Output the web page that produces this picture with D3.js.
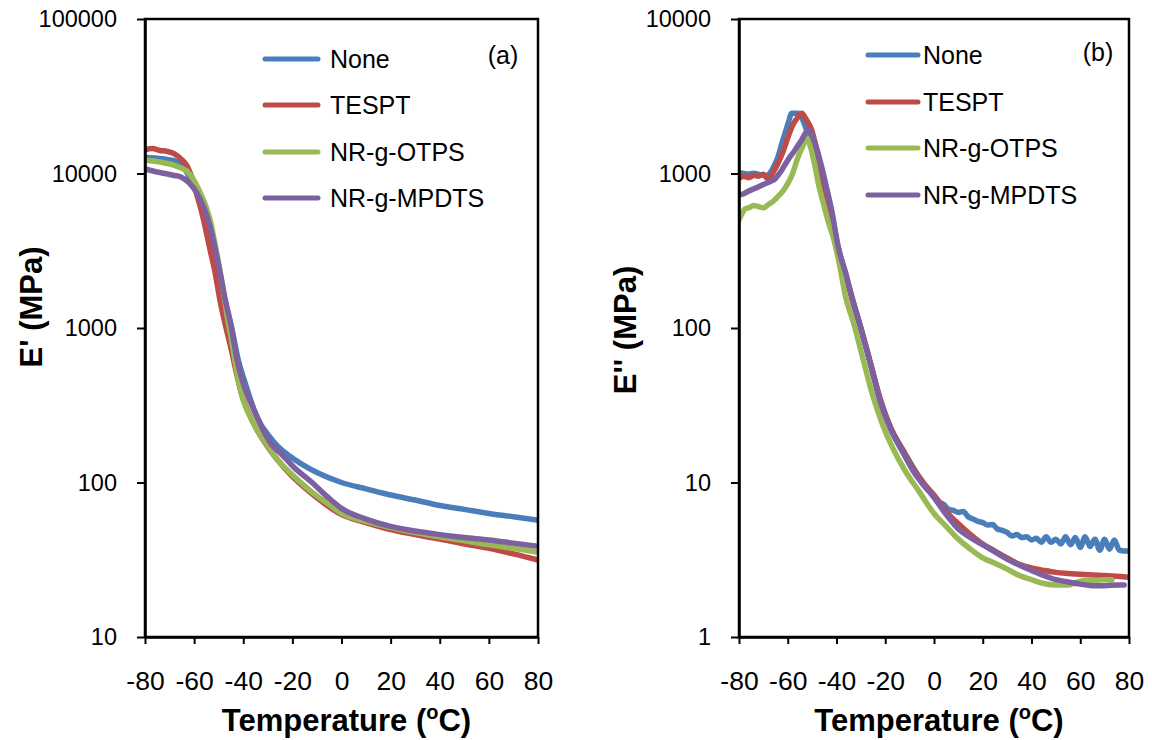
<!DOCTYPE html>
<html>
<head>
<meta charset="utf-8">
<script src="https://cdn.jsdelivr.net/npm/d3@7"></script>
<style>
  body { margin: 0; background: #fff; }
  text { font-family: "Liberation Sans", Arial, Helvetica, sans-serif; fill: #000; }
</style>
</head>
<body>
<svg id="chart" width="1152" height="740"></svg>
<script>
// ---- Data: temperature (°C) / modulus (MPa) pairs per compound ----
const seriesNames = ["None", "TESPT", "NR-g-OTPS", "NR-g-MPDTS"];
const seriesColors = ["#4A7EBB", "#BE4B48", "#98B954", "#7D60A0"];
const tempTicks = [-80, -60, -40, -20, 0, 20, 40, 60, 80];
const storageTicks = [10, 100, 1000, 10000, 100000];
const lossTicks = [1, 10, 100, 1000, 10000];

// (a) storage modulus E'
const storageNone = [[-80,12700],[-76,12600],[-72,12400],[-68,12100],[-65,11200],[-62,9600],[-59,7600],[-56,5800],[-53.5,4300],[-51.5,3100],[-49.5,2150],[-47.5,1500],[-45,1050],[-42,620],[-39,430],[-35,280],[-33,240],[-30,205],[-26,172],[-21,148],[-16.7,133],[-10,116],[0,100],[10,91],[20,83],[30,77],[40,71],[50,67],[60,63],[70,60],[80,57]];
const storageTESPT = [[-80,14200],[-77,14500],[-74,14100],[-71,13900],[-68,13400],[-65,12300],[-63,11300],[-61,9500],[-59,7400],[-57.5,6100],[-55.5,4500],[-53.5,3200],[-51.5,2300],[-49.5,1520],[-47,1000],[-45,740],[-43,530],[-41,390],[-36,245],[-30,170],[-22,118],[-11,82],[0,62],[10,55],[20,49.5],[30,46],[40,43],[50,40],[60,37.5],[70,34.5],[80,31.5]];
const storageOTPS = [[-80,12200],[-76,12000],[-72,11700],[-68,11300],[-65,10800],[-63,10400],[-60,9000],[-57,7200],[-55,6000],[-53.5,5000],[-51.5,3500],[-49.5,2370],[-48,1700],[-46.5,1180],[-45,880],[-43.3,600],[-41,390],[-36,245],[-30,172],[-26,140],[-22,120],[-16,98],[-11,84],[-5,72],[0,63],[10,56],[20,51],[30,47.5],[40,44.5],[50,42],[60,39.5],[70,37.5],[79,35.6]];
const storageMPDTS = [[-80,10700],[-76,10300],[-72,10000],[-68,9700],[-65.7,9550],[-62,8700],[-58.9,7480],[-56,6000],[-53.5,4530],[-51.5,3300],[-49.4,2270],[-47.3,1520],[-45.3,1100],[-41.9,562],[-40,440],[-38,360],[-35,280],[-32,220],[-28.8,179],[-24,150],[-19.5,126],[-12,100],[-5.8,81],[0,68],[10,58],[20,52],[30,48.5],[40,46],[50,44],[60,42.5],[70,40.5],[79,38.8]];

// (b) loss modulus E''
const lossNone = [[-80,1010],[-78,1000],[-76,990],[-74,1005],[-72,985],[-70,975],[-68.5,970],[-67,1020],[-65.5,1130],[-64,1280],[-62.5,1550],[-61,1850],[-59.5,2200],[-58.5,2450],[-57,2450],[-55.5,2450],[-54,2250],[-52.5,1950],[-51,1650],[-49,1300],[-47,960],[-45,720],[-43,540],[-40,360],[-36,212],[-33,146],[-30,99],[-26,58],[-22,34.5],[-18,23],[-12,15.5],[-6,10.8],[-2,8.9],[0,8.2],[2,7.5],[4,7.2],[6,6.7],[8,6.6],[10,6.4],[12,6.5],[14,6.0],[16,5.8],[18,5.6],[20,5.5],[22,5.3],[24,5.35],[26,5.0],[28,4.9],[30,4.75],[32,4.5],[34,4.6],[36,4.4],[38,4.45],[40,4.25],[42,4.35],[44,4.1],[46,4.45],[48,4.1],[50,4.3],[52,4.0],[54,4.45],[56,3.95],[58,4.4],[60,3.8],[62,4.45],[64,3.85],[66,4.3],[68,3.65],[70,4.3],[72,3.7],[74,4.25],[76,3.65],[78,3.6],[80,3.6]];
const lossTESPT = [[-80,930],[-78,960],[-76,940],[-74,970],[-72,960],[-70,990],[-68.5,930],[-67,960],[-65.5,1050],[-64,1165],[-62,1380],[-60,1700],[-58,2050],[-56,2300],[-54.3,2450],[-52.5,2250],[-50.2,1915],[-48,1400],[-46,1000],[-44,720],[-42,540],[-39.3,330],[-36,215],[-33.4,150],[-30,100],[-26,59],[-22.2,35],[-18,23],[-12.6,16],[-8,12],[-4,9.8],[0,8.3],[5,6.5],[10,5.4],[15,4.6],[20,4.0],[25,3.6],[30,3.25],[35,2.95],[40,2.8],[45,2.7],[50,2.62],[55,2.58],[60,2.55],[65,2.52],[70,2.5],[75,2.47],[80,2.44]];
const lossOTPS = [[-80,500],[-79,540],[-77.5,590],[-76,600],[-74,620],[-72,610],[-70,600],[-68,630],[-66,660],[-64,710],[-62,770],[-60,860],[-58,1000],[-56,1250],[-54,1480],[-52.2,1690],[-50.5,1450],[-49,1150],[-47.5,870],[-45.5,650],[-43.4,490],[-41,370],[-38.5,245],[-36.5,165],[-33,108],[-29,62],[-25,36],[-21,23.5],[-17,16.8],[-12,12],[-6,8.7],[0,6.3],[5,5.2],[10,4.3],[15,3.7],[20,3.25],[25,3.0],[30,2.75],[35,2.5],[40,2.35],[45,2.22],[50,2.17],[55,2.17],[58,2.25],[62,2.32],[66,2.33],[70,2.35],[73,2.35]];
const lossMPDTS = [[-80,726],[-78,740],[-76,770],[-73.4,802],[-70,850],[-67,890],[-65,930],[-62.5,1050],[-60,1220],[-57,1420],[-54.3,1650],[-51.6,1915],[-49,1600],[-46.1,1107],[-44,800],[-42,581],[-39.3,336],[-36,220],[-33.4,152],[-30,100],[-26,58],[-22.2,34],[-18,22.5],[-12.6,15.5],[-8,11.5],[-4,9.5],[0,8.0],[5,6.2],[10,5.0],[15,4.4],[20,3.95],[25,3.55],[30,3.2],[35,2.92],[40,2.7],[45,2.5],[50,2.35],[55,2.27],[60,2.2],[65,2.15],[70,2.15],[75,2.17],[78,2.17]];

// ---- Panel layout ----
const panels = [
  {
    id: "a", left: 145, right: 538, top: 19, bottom: 637,
    yDomain: [10, 100000], yTicks: storageTicks,
    series: [storageNone, storageTESPT, storageOTPS, storageMPDTS],
    yTitle: "E' (MPa)", yTitleX: 42, yTitleY: 307,
    tag: "(a)", tagX: 503, tagY: 64,
    legendX: 265, legendLen: 53, legendGap: 12, legendY: [59, 105, 152, 198]
  },
  {
    id: "b", left: 739, right: 1129, top: 19, bottom: 637,
    yDomain: [1, 10000], yTicks: lossTicks,
    series: [lossNone, lossTESPT, lossOTPS, lossMPDTS],
    yTitle: "E'' (MPa)", yTitleX: 636, yTitleY: 330,
    tag: "(b)", tagX: 1098, tagY: 61,
    legendX: 868, legendLen: 50, legendGap: 5, legendY: [55, 102, 148, 195]
  }
];

const svg = d3.select("#chart");
// plain hyphen-minus for negative tick labels
const fmt = d => String(d);

panels.forEach(p => {
  const x = d3.scaleLinear().domain([-80, 80]).range([p.left, p.right]);
  const y = d3.scaleLog().domain(p.yDomain).range([p.bottom, p.top]);
  const g = svg.append("g").attr("class", "panel-" + p.id);

  g.append("clipPath").attr("id", "clip-" + p.id)
    .append("rect")
    .attr("x", p.left).attr("y", p.top)
    .attr("width", p.right - p.left).attr("height", p.bottom - p.top);

  // curves
  const line = d3.line()
    .x(d => x(d[0]))
    .y(d => y(d[1]))
    .curve(d3.curveMonotoneX);

  g.append("g").attr("clip-path", `url(#clip-${p.id})`)
    .selectAll("path")
    .data(p.series)
    .join("path")
    .attr("d", line)
    .attr("fill", "none")
    .attr("stroke", (d, i) => seriesColors[i])
    .attr("stroke-width", 5.5)
    .attr("stroke-linejoin", "round")
    .attr("stroke-linecap", "round");

  // plot frame
  g.append("rect")
    .attr("x", p.left).attr("y", p.top)
    .attr("width", p.right - p.left).attr("height", p.bottom - p.top)
    .attr("fill", "none").attr("stroke", "#000").attr("stroke-width", 2.5);

  // y axis
  const yAxis = g.append("g")
    .attr("transform", `translate(${p.left},0)`)
    .call(d3.axisLeft(y).tickValues(p.yTicks).tickFormat(fmt)
      .tickSize(8).tickSizeOuter(0).tickPadding(20));
  yAxis.select(".domain").attr("stroke-width", 2.5);
  yAxis.selectAll(".tick line").attr("stroke-width", 2);
  yAxis.selectAll(".tick text")
    .attr("font-size", 23.5).attr("fill", "#000")
    .attr("font-family", "'Liberation Sans', Arial, sans-serif");

  // x axis
  const xAxis = g.append("g")
    .attr("transform", `translate(0,${p.bottom})`)
    .call(d3.axisBottom(x).tickValues(tempTicks).tickFormat(fmt)
      .tickSize(7).tickSizeOuter(0).tickPadding(27));
  xAxis.select(".domain").attr("stroke-width", 2.5);
  xAxis.selectAll(".tick line").attr("stroke-width", 2);
  xAxis.selectAll(".tick text")
    .attr("font-size", 26.5).attr("fill", "#000")
    .attr("font-family", "'Liberation Sans', Arial, sans-serif");

  // x title with superscript degree "o"
  const xt = g.append("text")
    .attr("x", (p.left + p.right) / 2 + 5)
    .attr("y", 731)
    .attr("text-anchor", "middle")
    .attr("font-size", 31).attr("font-weight", "bold");
  xt.append("tspan").text("Temperature (");
  xt.append("tspan").attr("font-size", 20).attr("dy", -12).text("o");
  xt.append("tspan").attr("dy", 12).text("C)");

  // y title
  g.append("text")
    .attr("transform", `translate(${p.yTitleX},${p.yTitleY}) rotate(-90)`)
    .attr("text-anchor", "middle")
    .attr("font-size", 31).attr("font-weight", "bold")
    .text(p.yTitle);

  // panel tag
  g.append("text")
    .attr("x", p.tagX).attr("y", p.tagY)
    .attr("text-anchor", "middle")
    .attr("font-size", 25)
    .text(p.tag);

  // legend
  const lg = g.append("g");
  seriesNames.forEach((name, i) => {
    const ly = p.legendY[i];
    lg.append("line")
      .attr("x1", p.legendX).attr("x2", p.legendX + p.legendLen)
      .attr("y1", ly).attr("y2", ly)
      .attr("stroke", seriesColors[i]).attr("stroke-width", 5)
      .attr("stroke-linecap", "round");
    lg.append("text")
      .attr("x", p.legendX + p.legendLen + p.legendGap)
      .attr("y", ly).attr("dy", "0.35em")
      .attr("font-size", 25)
      .text(name);
  });
});
</script>
</body>
</html>
